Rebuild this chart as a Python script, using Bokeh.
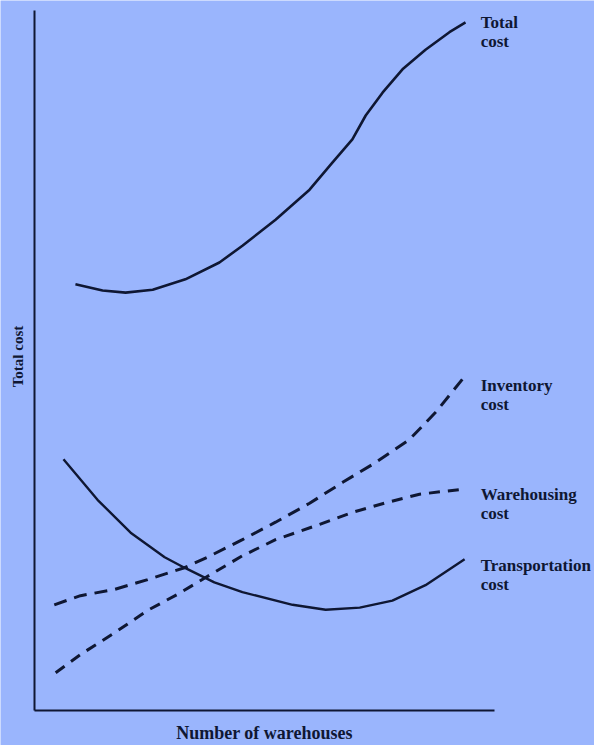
import math
from bokeh.plotting import figure
from bokeh.models import Range1d, FixedTicker, LinearAxis
from bokeh.core.properties import value
from bokeh.embed import file_html
from bokeh.resources import INLINE

# ---- data (arbitrary units 0..10) ----
total_x = [0.89, 1.48, 1.98, 2.57, 3.28, 4.02, 4.52, 5.24, 5.98, 6.48, 6.91, 7.20, 7.57, 8.00, 8.50, 9.02, 9.37]
total_y = [6.09, 6.00, 5.97, 6.01, 6.16, 6.40, 6.64, 7.01, 7.44, 7.83, 8.16, 8.50, 8.83, 9.16, 9.44, 9.69, 9.83]

transport_x = [0.63, 1.37, 2.09, 2.83, 3.26, 3.91, 4.52, 5.61, 6.33, 7.07, 7.78, 8.50, 9.35]
transport_y = [3.59, 3.01, 2.54, 2.19, 2.04, 1.83, 1.69, 1.51, 1.44, 1.47, 1.57, 1.79, 2.16]

inventory_x = [0.43, 1.00, 1.74, 2.46, 3.26, 3.76, 4.52, 5.24, 5.98, 6.70, 7.41, 8.15, 8.72, 9.30]
inventory_y = [1.51, 1.64, 1.73, 1.87, 2.04, 2.19, 2.44, 2.69, 2.96, 3.26, 3.54, 3.87, 4.26, 4.73]

warehousing_x = [0.46, 1.00, 1.74, 2.46, 3.11, 3.72, 4.52, 5.24, 6.20, 6.91, 7.65, 8.37, 9.30]
warehousing_y = [0.54, 0.80, 1.11, 1.43, 1.66, 1.90, 2.21, 2.44, 2.66, 2.83, 2.97, 3.09, 3.16]

curve_labels = [("Total", "cost"), ("Inventory", "cost"), ("Warehousing", "cost"), ("Transportation", "cost")]
x_title = "Number of warehouses"
y_title = "Total cost"
axis_min, axis_max = 0, 10

BG = "#9ab5fd"
INK = "#0f1733"
FONT = "Liberation Serif"

W, H = 594, 745
left_px, right_px, top_px, bottom_px = 34, 494, 10, 710   # axis box inside the figure
sx = (right_px - left_px) / (axis_max - axis_min)
sy = (bottom_px - top_px) / (axis_max - axis_min)

p = figure(width=W, height=H, output_backend="svg", toolbar_location=None,
           x_axis_location=None, y_axis_location=None,
           x_range=Range1d(axis_min - left_px / sx, axis_max + (W - right_px) / sx),
           y_range=Range1d(axis_min - (H - bottom_px) / sy, axis_max + top_px / sy),
           min_border_left=0, min_border_right=0, min_border_top=0, min_border_bottom=0)
p.background_fill_color = BG
p.border_fill_color = BG
p.outline_line_color = None
p.grid.visible = False

xa = LinearAxis(fixed_location=axis_min, bounds=(axis_min, axis_max))
ya = LinearAxis(fixed_location=axis_min, bounds=(axis_min, axis_max))
for ax in (xa, ya):
    ax.ticker = FixedTicker(ticks=[])
    ax.axis_line_color = INK
    ax.axis_line_width = 2
    ax.major_tick_line_color = None
    ax.minor_tick_line_color = None
    ax.major_label_text_font_size = "0px"
p.add_layout(xa, "below")
p.add_layout(ya, "left")

p.line(total_x, total_y, line_color=INK, line_width=2.6)
p.line(transport_x, transport_y, line_color=INK, line_width=2.4)
p.line(inventory_x, inventory_y, line_color=INK, line_width=3, line_dash="13 8")
p.line(warehousing_x, warehousing_y, line_color=INK, line_width=3, line_dash="11 8")

# axis titles
p.text(x=[(axis_min + axis_max) / 2], y=[axis_min], text=[x_title], y_offset=22,
       text_font=value(FONT), text_font_style="bold", text_font_size="18px",
       text_color=INK, text_align="center", text_baseline="alphabetic")
p.text(x=[axis_min], y=[(axis_min + axis_max) / 2], text=[y_title], x_offset=-17, y_offset=-4,
       angle=math.pi / 2, text_font=value(FONT), text_font_style="bold", text_font_size="15px",
       text_color=INK, text_align="center", text_baseline="middle")

# curve labels
ends = [total_y[-1], inventory_y[-1], warehousing_y[-1], transport_y[-1]]
offs = [0, 6, 5, 6]
lx = axis_max - 0.3
for (l1, l2), yend, off in zip(curve_labels, ends, offs):
    p.text(x=[lx, lx], y=[yend, yend], text=[l1, l2], y_offset=[off, off + 19],
           text_font=value(FONT), text_font_style="bold", text_font_size="17px",
           text_color=INK, text_align="left", text_baseline="alphabetic")

open("out.html", "w").write(file_html(p, INLINE))
